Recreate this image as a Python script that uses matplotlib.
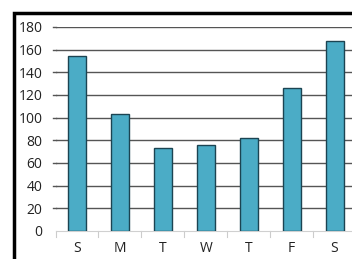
import matplotlib
matplotlib.use("Agg")
import matplotlib.pyplot as plt
from matplotlib.patches import Rectangle

days = ["S", "M", "T", "W", "T", "F", "S"]
values = [154, 103, 73, 76, 82, 126, 168]
yticks = [0, 20, 40, 60, 80, 100, 120, 140, 160, 180]

plt.rcParams['font.family'] = ['Open Sans', 'DejaVu Sans']

W, H = 352, 259
fig = plt.figure(figsize=(W/100, H/100), dpi=100)
fig.patch.set_facecolor("white")

left = 55.5 / W
right = 356 / W
bottom = (H - 231) / H
top = (H - 27) / H
ax = fig.add_axes([left, bottom, right - left, top - bottom])

x = list(range(len(days)))
ax.bar(x, values, width=0.42, color="#4BACC6", edgecolor="#1c4452", linewidth=1.0, zorder=3)

ax.set_xlim(-0.5, len(days) - 0.5)
ax.set_ylim(0, 180)
ax.set_yticks(yticks)
ax.set_yticklabels([str(v) for v in yticks], fontsize=10, color="#222222")
ax.set_xticks(x)
ax.set_xticklabels(days, fontsize=10, color="#222222")
ax.tick_params(axis="x", length=0, pad=7.5)
ax.tick_params(axis="y", length=0, pad=9.5)

for v in yticks[1:]:
    ax.axhline(v, color="#555555", linewidth=1.0, zorder=1)
    ax.plot([-0.55, -0.5], [v, v], color="#555555", linewidth=1.0, clip_on=False, zorder=1)
# minor ticks between categories
for b in [i + 0.5 for i in range(-1, len(days))]:
    ax.plot([b, b], [0, -5], color="#cccccc", linewidth=0.8, clip_on=False, zorder=1)

for s in ["left", "right", "top"]:
    ax.spines[s].set_visible(False)
ax.spines["bottom"].set_color("#d0d0d0")
ax.spines["bottom"].set_linewidth(0.8)

fig.patches.append(Rectangle((13.5 / W, -0.1), 1.2, (H - 13.5) / H + 0.1,
                             transform=fig.transFigure, fill=False,
                             edgecolor="black", linewidth=2.5))

fig.savefig("out.png", dpi=100, facecolor="white")
